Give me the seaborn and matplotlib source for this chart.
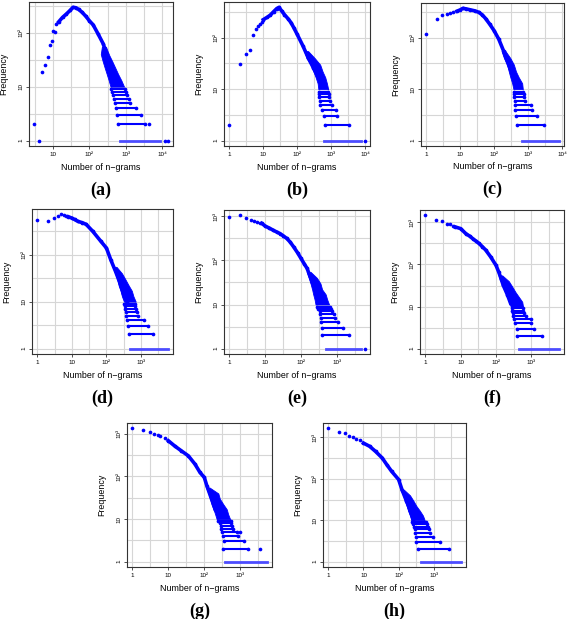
import numpy as np
import pandas as pd
import matplotlib
matplotlib.use('Agg')
import matplotlib.pyplot as plt
import seaborn as sns
from matplotlib.ticker import FixedLocator, FuncFormatter, NullFormatter

# low frequencies: one horizontal strip of points per level
LEVELS = [1, 2, 3, 4, 5, 6, 7, 8, 9]
# higher frequencies: the points merge into one cloud
CLOUD_LEVELS = [10, 13, 17, 22, 30, 40, 55]

TICK_VALUES = [1, 10, 100, 1000, 10000]
TICK_LABELS = ['1', '10', '10²', '10³', '10⁴']

PANEL_NAMES = ['(a)', '(b)', '(c)', '(d)', '(e)', '(f)', '(g)', '(h)']

# (a)
A_SPARSE_X = [3, 4, 5, 6, 7, 8, 9, 10, 11, 12]
A_SPARSE_Y = [2, 1, 19, 25, 35, 59, 71, 109, 104, 145]
A_CURVE_X = [14, 18, 23, 29, 35, 42, 50, 62, 80, 100, 126, 174, 240, 296, 367, 450]
A_CURVE_Y = [158, 192, 222, 258, 295, 290, 270, 240, 200, 165, 140, 94, 62, 40, 26, 18]
A_BAND_LO = [700, 630, 590, 530, 500, 480, 450, 430, 400]
A_BAND_HI = [8900, 3460, 2700, 1900, 1320, 1200, 1100, 1050, 980]
A_CLOUD_LO = [380, 340, 300, 265, 230, 205, 220]
A_CLOUD_HI = [900, 760, 620, 520, 420, 340, 285]
A_EXTRA_X = [12400, 14400, 4260]
A_EXTRA_Y = [1, 1, 2]

# (b)
B_SPARSE_X = [1, 2, 3, 4, 5, 6, 7, 8, 9]
B_SPARSE_Y = [2, 31, 49, 57, 111, 145, 170, 185, 200]
B_CURVE_X = [10, 13, 16, 20, 25, 29, 35, 42, 55, 66, 80, 100, 148, 210, 300, 420]
B_CURVE_Y = [225, 250, 275, 320, 370, 390, 330, 282, 230, 195, 155, 116, 69, 41, 26, 17]
B_BAND_LO = [600, 640, 600, 530, 470, 470, 445, 430, 425]
B_BAND_HI = [7800, 3400, 1500, 1350, 1070, 950, 890, 850, 830]
B_CLOUD_LO = [420, 400, 350, 300, 250, 190, 160]
B_CLOUD_HI = [820, 750, 670, 560, 475, 330, 210]
B_EXTRA_X = [9700]
B_EXTRA_Y = [1]

# (c)
C_SPARSE_X = [1, 2, 3, 4, 5, 6]
C_SPARSE_Y = [120, 234, 270, 283, 300, 320]
C_CURVE_X = [8, 10, 12, 15, 20, 27, 35, 45, 56, 75, 100, 137, 192, 270, 340, 425]
C_CURVE_Y = [325, 345, 370, 360, 345, 330, 310, 275, 234, 180, 136, 93, 54, 29, 20, 12]
C_BAND_LO = [660, 475, 445, 420, 420, 400, 380, 380, 375]
C_BAND_HI = [8000, 2900, 1830, 1300, 1180, 830, 750, 750, 720]
C_CLOUD_LO = [370, 340, 300, 270, 240, 195, 165]
C_CLOUD_HI = [700, 670, 530, 440, 380, 300, 215]
C_EXTRA_X = []
C_EXTRA_Y = []

# (d)
D_SPARSE_X = [1, 2, 3, 4, 5, 6, 7]
D_SPARSE_Y = [550, 530, 590, 680, 720, 690, 660]
D_CURVE_X = [8, 10, 12, 15, 20, 26, 40, 69, 100, 133, 183, 255, 316, 390]
D_CURVE_Y = [640, 600, 560, 510, 480, 440, 315, 192, 138, 78, 44, 23, 14, 10]
D_BAND_LO = [490, 440, 420, 390, 375, 360, 350, 345, 330]
D_BAND_HI = [5900, 2200, 1550, 1200, 840, 780, 720, 680, 650]
D_CLOUD_LO = [320, 280, 255, 225, 205, 180, 150]
D_CLOUD_HI = [700, 600, 540, 440, 350, 280, 195]
D_EXTRA_X = []
D_EXTRA_Y = []

# (e)
E_SPARSE_X = [1, 2, 3, 4, 5, 6, 7]
E_SPARSE_Y = [960, 1050, 910, 810, 800, 760, 720]
E_CURVE_X = [8, 10, 13, 17, 21, 26, 32, 40, 50, 62, 80, 100, 122, 148, 175, 205, 255, 316]
E_CURVE_Y = [690, 600, 540, 480, 440, 405, 360, 315, 260, 204, 150, 111, 85, 66, 46, 33, 20, 12]
E_BAND_LO = [490, 390, 390, 370, 360, 350, 330, 300, 280]
E_BAND_HI = [4800, 2200, 1450, 1050, 900, 820, 760, 700, 650]
E_CLOUD_LO = [255, 240, 220, 205, 185, 165, 145]
E_CLOUD_HI = [610, 540, 490, 390, 350, 280, 185]
E_EXTRA_X = [6000]
E_EXTRA_Y = [1]

# (f)
F_SPARSE_X = [1, 2, 3, 4, 5, 6]
F_SPARSE_Y = [1470, 1120, 1070, 930, 930, 800]
F_CURVE_X = [7, 10, 14, 18, 22, 27, 33, 41, 51, 71, 100, 120, 140, 160, 210, 257]
F_CURVE_Y = [780, 710, 540, 470, 410, 360, 315, 265, 220, 150, 95, 65, 45, 32, 19, 12]
F_BAND_LO = [440, 390, 390, 350, 330, 310, 300, 290, 275]
F_BAND_HI = [5900, 2000, 1150, 1000, 950, 700, 600, 580, 560]
F_CLOUD_LO = [260, 230, 210, 185, 160, 135, 118]
F_CLOUD_HI = [580, 550, 440, 355, 285, 230, 150]
F_EXTRA_X = []
F_EXTRA_Y = []

# (g)
G_SPARSE_X = [1, 2, 3, 4, 5, 6, 8]
G_SPARSE_Y = [1350, 1230, 1120, 1000, 940, 880, 780]
G_CURVE_X = [10, 15, 23, 36, 55, 76, 100, 118, 160, 200]
G_CURVE_Y = [690, 520, 400, 305, 195, 124, 95, 60, 29, 17]
G_BAND_LO = [370, 330, 350, 330, 320, 300, 290, 270, 245]
G_BAND_HI = [5400, 1650, 1250, 880, 800, 640, 600, 560, 540]
G_CLOUD_LO = [220, 200, 180, 160, 145, 130, 112]
G_CLOUD_HI = [520, 460, 420, 340, 270, 245, 140]
G_EXTRA_X = [3500, 1000]
G_EXTRA_Y = [2, 5]

# (h)
H_SPARSE_X = [1, 2, 3, 4, 5, 6, 8]
H_SPARSE_Y = [1660, 1390, 1260, 1100, 1000, 920, 850]
H_CURVE_X = [10, 15, 22, 34, 46, 63, 100, 124, 167, 208, 258]
H_CURVE_Y = [730, 610, 460, 320, 220, 152, 96, 55, 29, 18, 10.5]
H_BAND_LO = [440, 355, 320, 320, 300, 300, 280, 260, 245]
H_BAND_HI = [5800, 2750, 1500, 940, 800, 740, 680, 620, 580]
H_CLOUD_LO = [230, 210, 185, 170, 150, 135, 112]
H_CLOUD_HI = [550, 490, 400, 320, 260, 210, 140]
H_EXTRA_X = []
H_EXTRA_Y = []

BLUE = '#0000ff'
PALE_BLUE = '#4c4cff'

# axes boxes in pixels: left, top, right, bottom
BOXES = [(29, 2, 173, 146), (224, 2, 370, 146), (421, 3, 564, 146),
         (32, 209, 173, 354), (224, 210, 370, 354), (420, 210, 564, 354),
         (127, 423, 272, 567), (323, 423, 466, 567)]


def make_panels():
    g = globals()
    panels = []
    for n in 'ABCDEFGH':
        panels.append({
            'sx': g[n + '_SPARSE_X'], 'sy': g[n + '_SPARSE_Y'],
            'cx': g[n + '_CURVE_X'], 'cy': g[n + '_CURVE_Y'],
            'lo': g[n + '_BAND_LO'], 'hi': g[n + '_BAND_HI'],
            'clo': g[n + '_CLOUD_LO'], 'chi': g[n + '_CLOUD_HI'],
            'ex': g[n + '_EXTRA_X'], 'ey': g[n + '_EXTRA_Y'],
        })
    return panels


def draw_panel(ax, p, name):
    # strips at the low frequencies
    segs = []
    for i, lv in enumerate(LEVELS):
        segs.append({'x': p['lo'][i], 'y': lv, 'seg': i})
        segs.append({'x': p['hi'][i], 'y': lv, 'seg': i})
    seg_df = pd.DataFrame(segs)
    sns.lineplot(data=seg_df[seg_df['y'] > 1], x='x', y='y', units='seg',
                 estimator=None, sort=False, color=BLUE, lw=1.5, ax=ax,
                 legend=False)
    sns.lineplot(data=seg_df[seg_df['y'] == 1], x='x', y='y', estimator=None,
                 sort=False, color=PALE_BLUE, lw=2.0, ax=ax, legend=False)

    # dense cloud above the strips
    ax.fill_betweenx(CLOUD_LEVELS, p['clo'], p['chi'], color=BLUE, lw=0.6,
                     edgecolor=BLUE)

    curve_df = pd.DataFrame({'x': p['cx'], 'y': p['cy']})
    sns.lineplot(data=curve_df, x='x', y='y', estimator=None, sort=False,
                 color=BLUE, lw=2.6, ax=ax, legend=False)

    pts = pd.DataFrame({'x': p['sx'] + p['cx'] + p['ex'] + p['lo'][1:] + p['hi'][1:],
                        'y': p['sy'] + p['cy'] + p['ey'] + LEVELS[1:] + LEVELS[1:]})
    sns.scatterplot(data=pts, x='x', y='y', s=7, color=BLUE, linewidth=0,
                    ax=ax, legend=False)

    ax.set_xscale('log')
    ax.set_yscale('log')
    ax.margins(0.04)
    ax.autoscale_view()

    half = [10 ** (k + 0.5) for k in range(-1, 5)]
    for axis in (ax.xaxis, ax.yaxis):
        axis.set_major_locator(FixedLocator(TICK_VALUES))
        axis.set_major_formatter(FuncFormatter(
            lambda v, pos: TICK_LABELS[TICK_VALUES.index(int(round(v)))]))
        axis.set_minor_locator(FixedLocator(half))
        axis.set_minor_formatter(NullFormatter())

    ax.grid(which='both', color='#d6d6d6', lw=0.8)
    ax.set_axisbelow(True)
    ax.tick_params(which='minor', length=0)
    ax.tick_params(which='major', length=2.5, width=0.6, labelsize=4.5,
                   pad=1.5, color='#333333')
    ax.tick_params(axis='y', labelrotation=90)
    plt.setp(ax.get_yticklabels(), va='center')
    for s in ax.spines.values():
        s.set_color('#333333')
        s.set_linewidth(0.8)

    ax.set_xlabel('Number of n\u2212grams', fontsize=6.4)
    ax.set_ylabel('Frequency', fontsize=6.4)
    ax.xaxis.set_label_coords(0.5, -0.115)
    ax.yaxis.set_label_coords(-0.145, 0.5)

    ax.text(0.5, -0.305, name, transform=ax.transAxes, ha='center',
            va='center', fontsize=13, fontweight='bold',
            family='Liberation Serif')


def main():
    plt.rcParams['font.family'] = ['Liberation Sans', 'DejaVu Sans']
    W, H = 568, 619
    fig = plt.figure(figsize=(W / 100, H / 100), dpi=100)
    panels = make_panels()
    for p, box, name in zip(panels, BOXES, PANEL_NAMES):
        l, t, r, b = box
        ax = fig.add_axes([l / W, 1 - b / H, (r - l) / W, (b - t) / H])
        draw_panel(ax, p, name)
    fig.savefig('out.png', dpi=100)


if __name__ == "__main__":
    main()
